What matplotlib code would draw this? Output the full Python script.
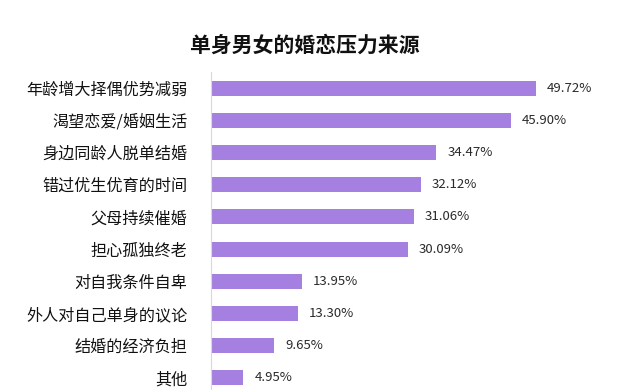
import matplotlib
matplotlib.use("Agg")
import matplotlib.pyplot as plt
import numpy as np

plt.rcParams["font.family"] = ["Noto Sans CJK SC", "DejaVu Sans"]

categories = [
    "年龄增大择偶优势减弱",
    "渴望恋爱/婚姻生活",
    "身边同龄人脱单结婚",
    "错过优生优育的时间",
    "父母持续催婚",
    "担心孤独终老",
    "对自我条件自卑",
    "外人对自己单身的议论",
    "结婚的经济负担",
    "其他",
]
values = [49.72, 45.90, 34.47, 32.12, 31.06, 30.09, 13.95, 13.30, 9.65, 4.95]
title = "单身男女的婚恋压力来源"

W, H = 637, 390
fig = plt.figure(figsize=(W / 100, H / 100), dpi=100)
fig.patch.set_facecolor("white")

# axes box in pixels: left edge at the axis line, rows 32.2 px apart
left_px, top_px, bottom_px, right_px = 211, 72, 394, 603
ax = fig.add_axes([left_px / W, 1 - bottom_px / H,
                   (right_px - left_px) / W, (bottom_px - top_px) / H])

y = np.arange(len(categories))
ax.barh(y, values, height=0.47, color="#a680e0", edgecolor="none")
ax.set_ylim(len(categories) - 0.5, -0.5)
ax.set_xlim(0, 60)

for yi, v in zip(y, values):
    ax.text(v + 1.7, yi, f"{v:.2f}%", va="center", ha="left",
            fontsize=9.5, color="#2a2a2a")

ax.set_yticks(y)
ax.set_yticklabels(categories, fontsize=11.6, color="#111111")
ax.tick_params(axis="y", length=0, pad=17)
ax.set_xticks([])
for side in ["top", "right", "bottom"]:
    ax.spines[side].set_visible(False)
ax.spines["left"].set_color("#d9d9d9")
ax.spines["left"].set_linewidth(0.8)

fig.text(305 / W, 1 - 45 / H, title, ha="center", va="center",
         fontsize=15, fontweight="bold", color="#111111")

fig.savefig("out.png", dpi=100, facecolor="white")
